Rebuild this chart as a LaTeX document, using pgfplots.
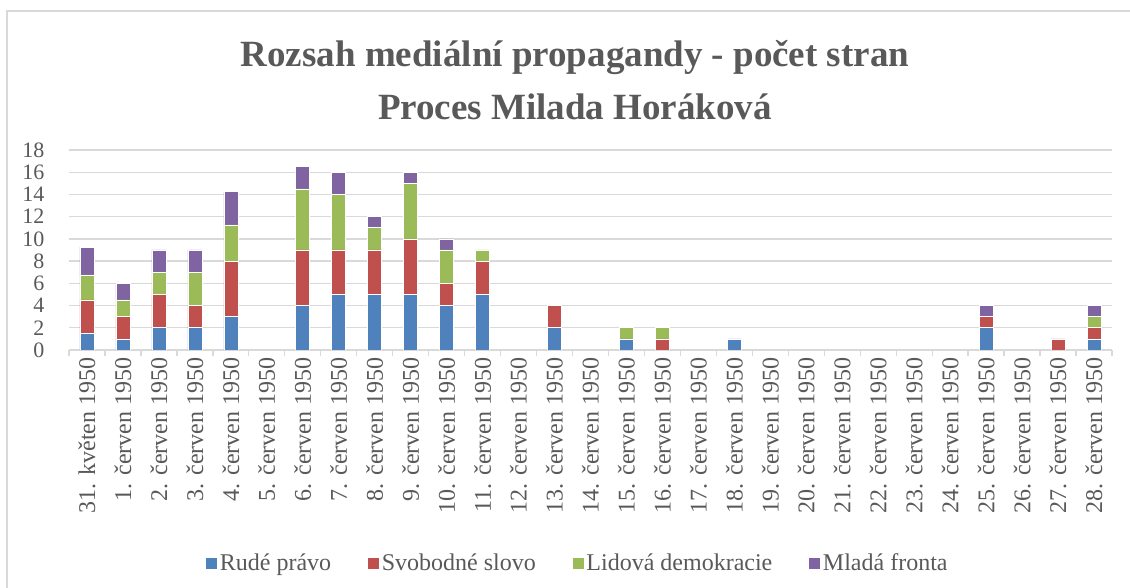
\documentclass[border=0pt]{standalone}
\usepackage{fontspec}
\setmainfont{Liberation Serif}
\usepackage{pgfplots}
\pgfplotsset{compat=1.18}
\usepackage{pgfplotstable}
\definecolor{txt}{HTML}{595959}
\definecolor{gridc}{HTML}{D9D9D9}
\definecolor{cA}{HTML}{4F81BD}
\definecolor{cB}{HTML}{C0504D}
\definecolor{cC}{HTML}{9BBB59}
\definecolor{cD}{HTML}{8064A2}
\pgfplotstableread{
x rp ss ld mf
0 1.5 3 2.25 2.5
1 1 2 1.5 1.5
2 2 3 2 2
3 2 2 3 2
4 3 5 3.25 3
5 0 0 0 0
6 4 5 5.5 2
7 5 4 5 2
8 5 4 2 1
9 5 5 5 1
10 4 2 3 1
11 5 3 1 0
12 0 0 0 0
13 2 2 0 0
14 0 0 0 0
15 1 0 1 0
16 0 1 1 0
17 0 0 0 0
18 1 0 0 0
19 0 0 0 0
20 0 0 0 0
21 0 0 0 0
22 0 0 0 0
23 0 0 0 0
24 0 0 0 0
25 2 1 0 1
26 0 0 0 0
27 0 1 0 0
28 1 1 1 1
}\data
\begin{document}
\begin{tikzpicture}[x=1pt,y=1pt]
\useasboundingbox (0,0) rectangle (1130,588);
\draw[gridc, line width=1.5pt] (7,-20) -- (7,577) -- (1150,577);
\node[anchor=base, font=\fontsize{37}{40}\selectfont\bfseries, text=txt] at (575,521) {Rozsah mediální propagandy - počet stran};
\node[anchor=base, font=\fontsize{37}{40}\selectfont\bfseries, text=txt] at (575,468) {Proces Milada Horáková};
\begin{axis}[
  at={(69pt,238pt)}, anchor=south west,
  scale only axis, width=1043pt, height=200pt,
  ybar stacked, bar width=14pt,
  xmin=-0.5, xmax=28.5, ymin=0, ymax=18,
  ytick={0,2,...,18},
  xtick={0,...,28},
  xticklabels={31. květen 1950,1. červen 1950,2. červen 1950,3. červen 1950,4. červen 1950,5. červen 1950,6. červen 1950,7. červen 1950,8. červen 1950,9. červen 1950,10. červen 1950,11. červen 1950,12. červen 1950,13. červen 1950,14. červen 1950,15. červen 1950,16. červen 1950,17. červen 1950,18. červen 1950,19. červen 1950,20. červen 1950,21. červen 1950,22. červen 1950,23. červen 1950,24. červen 1950,25. červen 1950,26. červen 1950,27. červen 1950,28. červen 1950},
  minor xtick={-0.5,0.5,...,28.5},
  major tick length=0pt, minor tick length=6pt, tick align=outside,
  xtick pos=bottom, ytick pos=left,
  minor tick style={gridc, line width=1.3pt},
  ytick style={draw=none},
  axis line style={draw=none},
  ymajorgrids, grid style={gridc, line width=1.3pt},
  /pgf/number format/assume math mode=true,
  tick label style={text=txt},
  yticklabel style={font=\fontsize{22}{24}\selectfont, xshift=-21pt},
  xticklabel style={font=\fontsize{24}{26}\selectfont, yshift=-4pt, rotate=90, anchor=east},
  legend style={at={(0.4875,-1.065)}, anchor=center, draw=none, legend columns=4,
    font=\fontsize{24}{26}\selectfont, text=txt,
    /tikz/every even column/.append style={column sep=34pt}},
  legend image code/.code={\fill[#1] (0pt,-6pt) rectangle (12pt,6pt);},
  every axis plot/.append style={draw=white, line width=0.6pt},
]
\addplot[fill=cA] table[x=x, y=rp] {\data};
\addplot[fill=cB] table[x=x, y=ss] {\data};
\addplot[fill=cC] table[x=x, y=ld] {\data};
\addplot[fill=cD] table[x=x, y=mf] {\data};
\legend{Rudé právo, Svobodné slovo, Lidová demokracie, Mladá fronta}
\end{axis}
\end{tikzpicture}
\end{document}
